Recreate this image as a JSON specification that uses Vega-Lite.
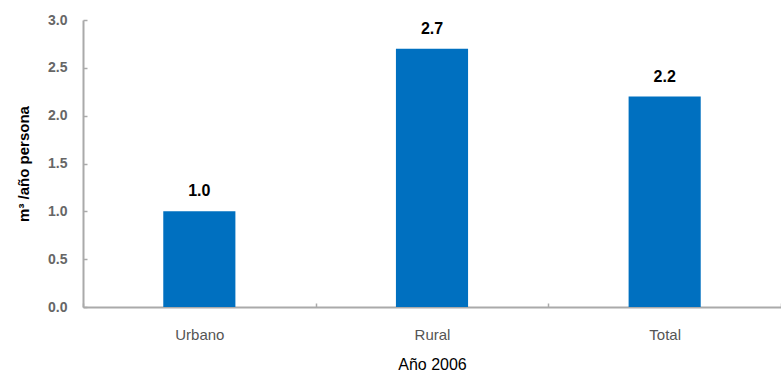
{
  "$schema": "https://vega.github.io/schema/vega-lite/v6.json",
  "width": 698,
  "height": 287,
  "autosize": {"type": "none"},
  "padding": {"left": 83, "top": 20, "right": 0, "bottom": 74},
  "background": "white",
  "config": {"view": {"stroke": null}, "font": "Liberation Sans"},
  "data": {"values": [
    {"cat": "Urbano", "value": 1.0},
    {"cat": "Rural", "value": 2.7},
    {"cat": "Total", "value": 2.2}
  ]},
  "encoding": {
    "x": {
      "field": "cat", "type": "nominal", "sort": null,
      "scale": {"paddingInner": 0, "paddingOuter": 0},
      "axis": {
        "title": "Año 2006", "labelAngle": 0, "labelFontSize": 15, "labelColor": "#555555",
        "labelPadding": 24, "titleFontSize": 16, "titleFontWeight": "normal", "titleColor": "#000000",
        "titlePadding": 14, "domainColor": "#aaaaaa", "domainWidth": 2, "tickBand": "extent",
        "tickColor": "#aaaaaa", "tickSize": -4, "tickWidth": 1.5
      }
    },
    "y": {
      "field": "value", "type": "quantitative",
      "scale": {"domain": [0, 3]},
      "axis": {
        "title": "m³ /año persona", "values": [0, 0.5, 1, 1.5, 2, 2.5, 3], "format": ".1f",
        "grid": false, "labelFontSize": 14, "labelFontWeight": "bold", "labelColor": "#666666",
        "labelPadding": 20, "titleFontSize": 15, "titleFontWeight": "bold", "titleColor": "#000000",
        "titlePadding": 16, "domainColor": "#aaaaaa", "domainWidth": 2,
        "tickColor": "#aaaaaa", "tickSize": -4, "tickWidth": 1.5
      }
    }
  },
  "layer": [
    {"mark": {"type": "bar", "color": "#0070C0", "width": {"band": 0.31}}},
    {"mark": {"type": "text", "dy": -12, "baseline": "bottom", "fontSize": 16, "fontWeight": "bold", "color": "#000000"},
     "encoding": {"text": {"field": "value", "type": "quantitative", "format": ".1f"}}}
  ]
}
